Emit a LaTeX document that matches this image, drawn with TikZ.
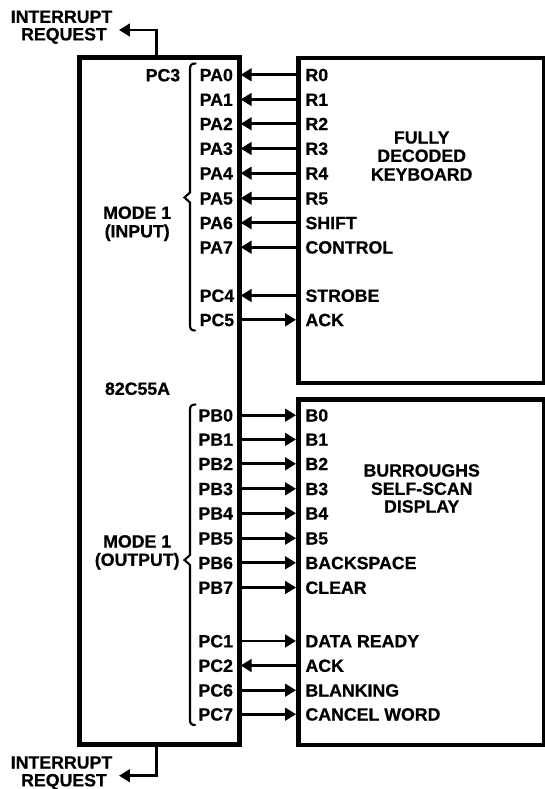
\documentclass[tikz,border=0pt]{standalone}
\usepackage{fontspec}
\setmainfont{Liberation Sans}[BoldFeatures={FakeBold=0.7}]
\usetikzlibrary{arrows.meta}
\tikzset{
  x=0.75pt,y=-0.75pt,
  boxline/.style={draw=black,line width=3.7pt,fill=white,inner sep=0pt,rectangle},
  wire/.style={draw=black,line width=2.15pt,line cap=butt,miter limit=10},
  inarr/.style={wire,-{Triangle[length=8.2pt,width=9.4pt]},shorten >=-1pt},
  outarr/.style={wire,-{Triangle[length=8.2pt,width=9.4pt]}},
  lbl/.style={font=\bfseries\fontsize{13.3}{13.3}\selectfont,inner sep=0pt,outer sep=0pt,text=black,text height=9.5pt,text depth=0pt},
  portl/.style={lbl,anchor=west},
  ctr/.style={lbl,anchor=center},
  bracel/.style={draw=black,line width=1.6pt,line cap=round,line join=miter}
}
\begin{document}
\begin{tikzpicture}
\useasboundingbox (0,0) rectangle (544,789);
% boxes (centre lines)
\node[boxline,minimum width=120pt,minimum height=514.9pt] (chip) at (159.5,401.2) {};
\node[boxline,minimum width=184.1pt,minimum height=243.75pt] (kbd) at (421.25,220.5) {};
\node[boxline,minimum width=184.1pt,minimum height=259.1pt] (disp) at (421.25,572.25) {};
% left/right signal labels and connectors
\foreach \i/\yy/\pl/\pr/\dir in {
 1/75.3/PA0/R0/in,2/100/PA1/R1/in,3/124.3/PA2/R2/in,4/149/PA3/R3/in,5/173.7/PA4/R4/in,6/198.7/PA5/R5/in,
 7/223.3/PA6/SHIFT/in,8/247.7/PA7/CONTROL/in,9/296/PC4/STROBE/in,10/320.3/PC5/ACK/out}{
  \node[portl] (kl\i) at (199.7,\yy-0.5) {\pl};
  \node[portl] (kr\i) at (305.5,\yy-0.5) {\pr};
  \draw[\dir arr]
     \ifnum\pdfstrcmp{\dir}{in}=0 (kbd.west |- kr\i.west) -- (chip.east |- kr\i.west)
     \else (chip.east |- kr\i.west) -- (kbd.west |- kr\i.west) \fi;
}
\foreach \i/\yy/\pl/\pr/\dir in {
 1/415.7/PB0/B0/out,2/439.9/PB1/B1/out,3/464.3/PB2/B2/out,4/489.3/PB3/B3/out,5/513.7/PB4/B4/out,6/538.7/PB5/B5/out,
 7/563.3/PB6/BACKSPACE/out,8/588/PB7/CLEAR/out,9/641.5/PC1/DATA READY/out,10/666/PC2/ACK/in,11/690.7/PC6/BLANKING/out,12/714.7/PC7/CANCEL WORD/out}{
  \node[portl] (dl\i) at (198.5,\yy-0.5) {\pl};
  \node[portl] (dr\i) at (305.5,\yy-0.5) {\pr};
  \draw[\dir arr]
     \ifnum\pdfstrcmp{\dir}{in}=0 (disp.west |- dr\i.west) -- (chip.east |- dr\i.west)
     \else (chip.east |- dr\i.west) -- (disp.west |- dr\i.west) \fi;
}
% inner labels
\node[portl] (pcthree) at (145.7,75) {PC3};
\node[ctr] (modeA) at (137.2,212.5) {MODE 1};
\node[ctr] (inputA) at (137.2,231) {(INPUT)};
\node[portl] (chipname) at (105,388.5) {82C55A};
\node[ctr] (modeB) at (137.2,541.2) {MODE 1};
\node[ctr] (outputB) at (137.2,559.5) {(OUTPUT)};
% device labels
\node[ctr] (kA) at (421.7,137.2) {FULLY};
\node[ctr] (kB) at (421.7,155.5) {DECODED};
\node[ctr] (kC) at (421.7,174.2) {KEYBOARD};
\node[ctr] (dA) at (421.7,470.2) {BURROUGHS};
\node[ctr] (dB) at (421.7,488.5) {SELF-SCAN};
\node[ctr] (dC) at (421.7,506.2) {DISPLAY};
% interrupt requests
\node[ctr] (irqA) at (61.5,16.5) {INTERRUPT};
\node[ctr] (irqB) at (64,34) {REQUEST};
\node[ctr] (irqC) at (61.5,762.2) {INTERRUPT};
\node[ctr] (irqD) at (64,780) {REQUEST};
\coordinate (tipT) at (119,30);
\coordinate (tipB) at (119,775.7);
\coordinate (stub) at (156.7,400);
\draw[outarr] (stub |- chip.north) |- (tipT);
\draw[outarr] (stub |- chip.south) |- (tipB);
% braces
\draw[bracel] (195.5,63.5) .. controls (191.5,63.5) and (190,65) .. (190,69) -- (190,192.5) -- (184.5,197.5) -- (190,202.5) -- (190,325) .. controls (190,329) and (191.5,330.5) .. (195,330.5);
\draw[bracel] (195.5,404.5) .. controls (191.5,404.5) and (190,406) .. (190,410) -- (190,555) -- (184.5,560) -- (190,565) -- (190,720) .. controls (190,723.5) and (191.5,725) .. (195,725);
\end{tikzpicture}
\end{document}
